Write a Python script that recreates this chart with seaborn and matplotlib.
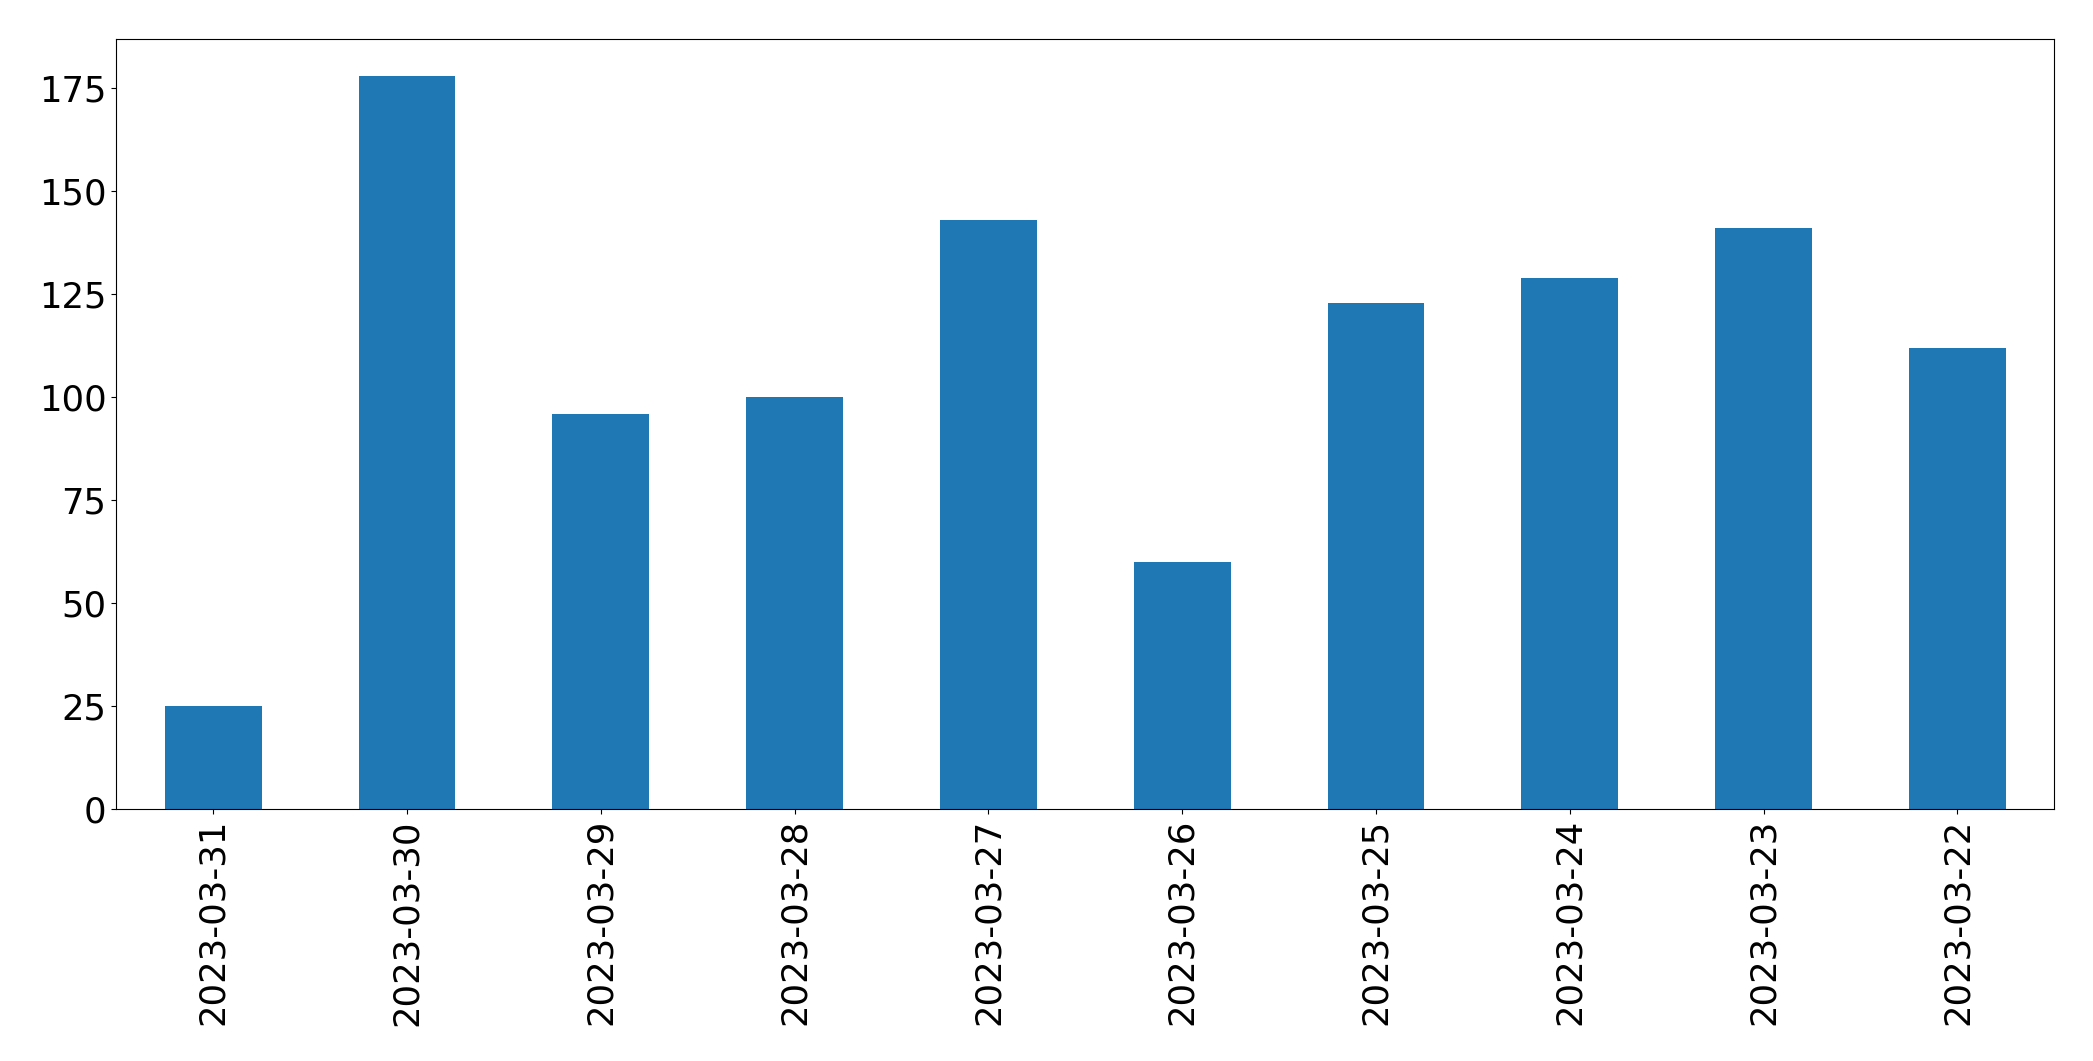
import matplotlib
matplotlib.use("Agg")
import matplotlib.pyplot as plt
import seaborn as sns
import pandas as pd

dates = ["2023-03-31", "2023-03-30", "2023-03-29", "2023-03-28", "2023-03-27",
         "2023-03-26", "2023-03-25", "2023-03-24", "2023-03-23", "2023-03-22"]
counts = [25, 178, 96, 100, 143, 60, 123, 129, 141, 112]

df = pd.DataFrame({"date": dates, "count": counts})

W, H = 2093, 1061
fig, ax = plt.subplots(figsize=(W / 100, H / 100), dpi=100)
fig.subplots_adjust(left=116.3 / W, right=2054.3 / W, top=1 - 39.3 / H, bottom=1 - 809.3 / H)

sns.barplot(data=df, x="date", y="count", order=dates, color="#1f77b4",
            saturation=1, width=0.5, ax=ax, errorbar=None)
ax.set_xlim(-0.5, len(dates) - 0.5)
ax.set_ylim(0, max(counts) * 1.05)
ax.set_xlabel("")
ax.set_ylabel("")
ax.tick_params(axis="x", labelrotation=90, labelsize=25.6)
ax.tick_params(axis="y", labelsize=25.6)
for s in ax.spines.values():
    s.set_visible(True)
    s.set_color("black")

fig.savefig("out.png", dpi=100)
